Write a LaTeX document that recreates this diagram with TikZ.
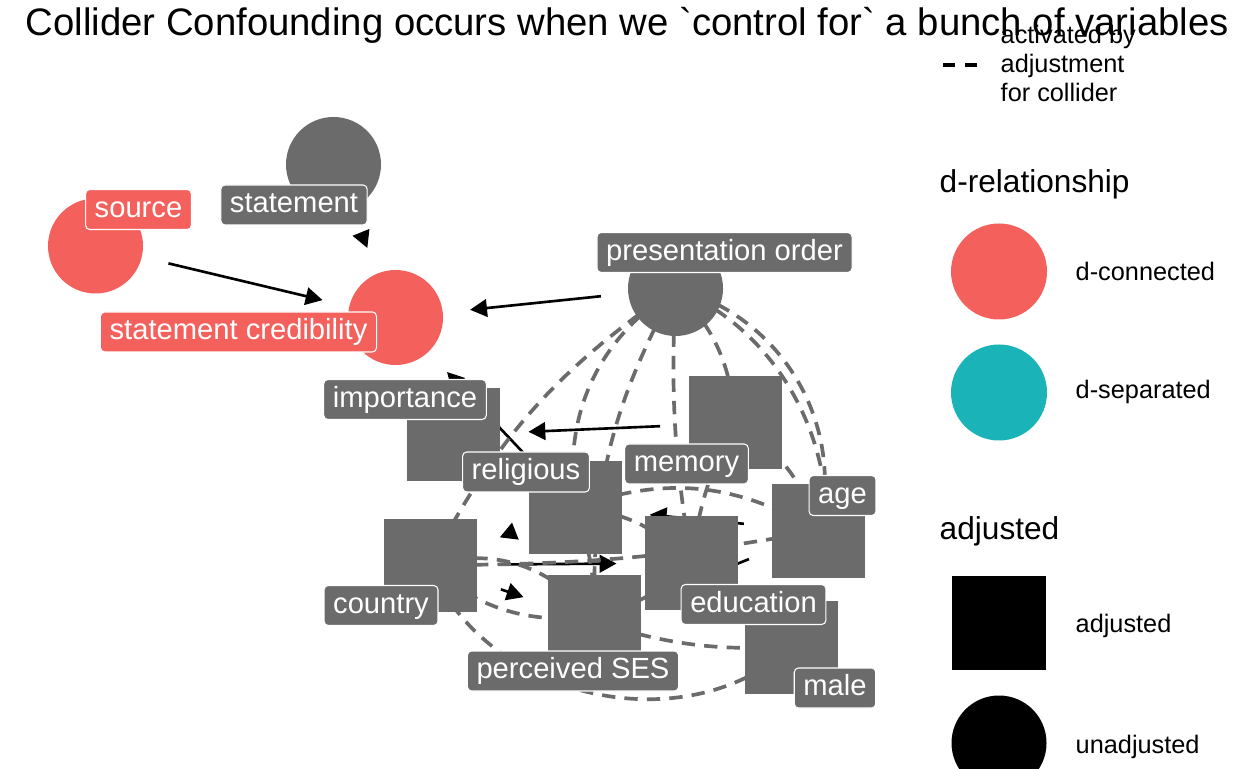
\documentclass[tikz,border=0pt]{standalone}
\usepackage{fontspec}
\setmainfont{Liberation Sans}
\usetikzlibrary{arrows.meta,backgrounds}
\definecolor{conn}{HTML}{F4605C}
\definecolor{sepd}{HTML}{1AB3B8}
\definecolor{nodegray}{HTML}{6B6B6B}
\begin{document}
\begin{tikzpicture}[every node/.style={font=\fontsize{8.3}{10}\selectfont},
  unadj/.style={circle,fill=nodegray,minimum size=0.95cm,inner sep=0pt},
  adj/.style={rectangle,fill=nodegray,minimum size=0.93cm,inner sep=0pt},
  lab/.style={draw=white,line width=0.3pt,fill=nodegray,text=white,rounded corners=1.2pt,inner xsep=2.6pt,inner ysep=0pt,minimum height=0.40cm,text height=6.1pt,text depth=1.7pt},
  causal/.style={-{Triangle[length=4.8pt,width=5pt]},line width=0.75pt,shorten <=0.75cm,shorten >=0.75cm},
  collider/.style={nodegray,line width=1.05pt,dash pattern=on 3.8pt off 2.6pt},
  legtxt/.style={font=\fontsize{7.2}{8.25}\selectfont,anchor=base west,inner sep=0pt},
  legtitle/.style={font=\fontsize{9}{11}\selectfont,anchor=base west,inner sep=0pt}]
  \useasboundingbox (0,0) rectangle (12.48,7.68);
  \node[font=\fontsize{10.9}{13}\selectfont,anchor=base west,inner sep=0pt] (title) at (0.25,7.32) {Collider Confounding occurs when we \textasciigrave control for\textasciigrave{} a bunch of variables};
  \foreach \nm/\x/\y/\col in {stm/3.335/6.035/nodegray,src/0.955/5.22/conn,cred/3.955/4.505/conn,pres/6.755/4.795/nodegray}
    \node[unadj,fill=\col] (\nm) at (\x,\y) {};
  \foreach \nm/\x/\y in {imp/4.535/3.33,mem/7.35/3.45,rel/5.75/2.605,ctry/4.30/2.03,edu/6.915/2.05,age/8.185/2.37,ses/5.945/1.465,male/7.915/1.21}
    \node[adj] (\nm) at (\x,\y) {};
  \foreach \nm/\x/\y/\col/\txt in {stm/2.94/5.63/nodegray/statement,src/1.385/5.585/conn/source,cred/2.385/4.36/conn/statement credibility,pres/7.245/5.155/nodegray/presentation order,imp/4.05/3.685/nodegray/importance,rel/5.26/2.96/nodegray/religious,ctry/3.81/1.625/nodegray/country,mem/6.865/3.04/nodegray/memory,age/8.425/2.725/nodegray/age,edu/7.535/1.635/nodegray/education,male/8.35/0.80/nodegray/male,ses/5.73/0.97/nodegray/perceived SES}
    \node[lab,fill=\col] (\nm-l) at (\x,\y) {\txt};
  \begin{scope}[on background layer]
    \foreach \a/\b in {src/cred,stm/cred,pres/cred,rel/cred,mem/imp,rel/ctry,ctry/edu,ctry/ses,age/rel,age/ses}
      \draw[causal] (\a.center) -- (\b.center);
    \foreach \a/\b/\ang in {pres/ctry/-14,pres/rel/-32,pres/ses/-15,pres/edu/-6,pres/mem/20,pres/age/45,pres/male/50,ctry/male/-55,ctry/edu/-45,ctry/ses/35,ctry/age/-5,rel/edu/20,rel/age/25,rel/ses/10,mem/edu/-10,mem/age/20,ses/male/-10}
      \draw[collider] (\a.center) to[bend left=\ang] (\b.center);
  \end{scope}
  \draw[line width=0.9pt,dash pattern=on 0.12cm off 0.1cm] (9.43,7.03) -- (9.78,7.03);
  \node[legtxt,anchor=west,align=left] (leg-coll) at (10.0,7.05) {activated by\\adjustment\\for collider};
  \node[legtitle] (leg-drel) at (9.39,5.75) {d-relationship};
  \node[unadj,fill=conn,minimum size=0.96cm] (key-conn) at (9.99,4.965) {};
  \node[legtxt] (leg-conn) at (10.75,4.87) {d-connected};
  \node[unadj,fill=sepd,minimum size=0.96cm] (key-sep) at (9.99,3.755) {};
  \node[legtxt] (leg-sep) at (10.75,3.69) {d-separated};
  \node[legtitle] (leg-adj) at (9.39,2.28) {adjusted};
  \node[adj,fill=black,minimum size=0.94cm] (key-adj) at (9.99,1.45) {};
  \node[legtxt] (leg-adjd) at (10.75,1.36) {adjusted};
  \node[unadj,fill=black] (key-unadj) at (9.99,0.25) {};
  \node[legtxt] (leg-unadj) at (10.75,0.15) {unadjusted};
\end{tikzpicture}
\end{document}
